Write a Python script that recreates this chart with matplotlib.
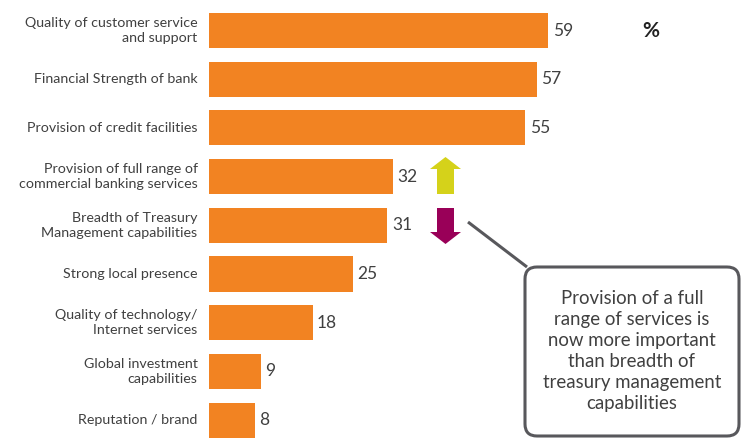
import matplotlib
matplotlib.use("Agg")
import matplotlib.pyplot as plt
from matplotlib.patches import FancyArrow, FancyBboxPatch

plt.rcParams['font.family'] = ['Lato', 'DejaVu Sans']

categories = [
    "Quality of customer service\nand support",
    "Financial Strength of bank",
    "Provision of credit facilities",
    "Provision of full range of\ncommercial banking services",
    "Breadth of Treasury\nManagement capabilities",
    "Strong local presence",
    "Quality of technology/\nInternet services",
    "Global investment\ncapabilities",
    "Reputation / brand",
]
values = [59, 57, 55, 32, 31, 25, 18, 9, 8]
note = ("Provision of a full\nrange of services is\nnow more important\n"
        "than breadth of\ntreasury management\ncapabilities")

W, H = 741, 443
fig = plt.figure(figsize=(W / 100, H / 100), dpi=100)
ax = fig.add_axes([209 / W, 0, 1 - 209 / W, 1])

bar_color = "#f28322"
text_color = "#404040"
pos = list(range(len(values)))
ax.barh(pos, values, height=0.72, color=bar_color)
ax.set_xlim(0, (W - 209) / 5.75)
ax.set_ylim((H - 30.5) / 48.7, -30.5 / 48.7)
for p, v in zip(pos, values):
    ax.text(v + 0.8, p, str(v), va="center", ha="left", fontsize=12.5, color=text_color)
for p, c in zip(pos, categories):
    ax.text(-2.0, p, c, va="center", ha="right", fontsize=10.3, color=text_color,
            linespacing=1.3)
ax.axis("off")

# overlay in pixel units for the arrows and callout
ov = fig.add_axes([0, 0, 1, 1], facecolor="none")
ov.set_xlim(0, W)
ov.set_ylim(H, 0)
ov.axis("off")
ov.text(651, 31, "%", ha="center", va="center", fontsize=15, fontweight="bold", color="#222222")

ov.add_patch(FancyArrow(445.5, 194, 0, -37, width=17, head_width=31, head_length=12,
                        length_includes_head=True, color="#d5d21a", lw=0))
ov.add_patch(FancyArrow(445.5, 208, 0, 36, width=17, head_width=31, head_length=12,
                        length_includes_head=True, color="#990058", lw=0))

ov.plot([468, 527], [222, 267], color="#58585c", lw=2.2, solid_capstyle="butt")
ov.add_patch(FancyBboxPatch((525, 267), 214, 169, boxstyle="round,pad=0,rounding_size=12",
                            facecolor="white", edgecolor="#58585c", lw=2.2))
ov.text(632, 351, note, ha="center", va="center", fontsize=13.4, color=text_color,
        linespacing=1.28)

fig.savefig("out.png", dpi=100)
